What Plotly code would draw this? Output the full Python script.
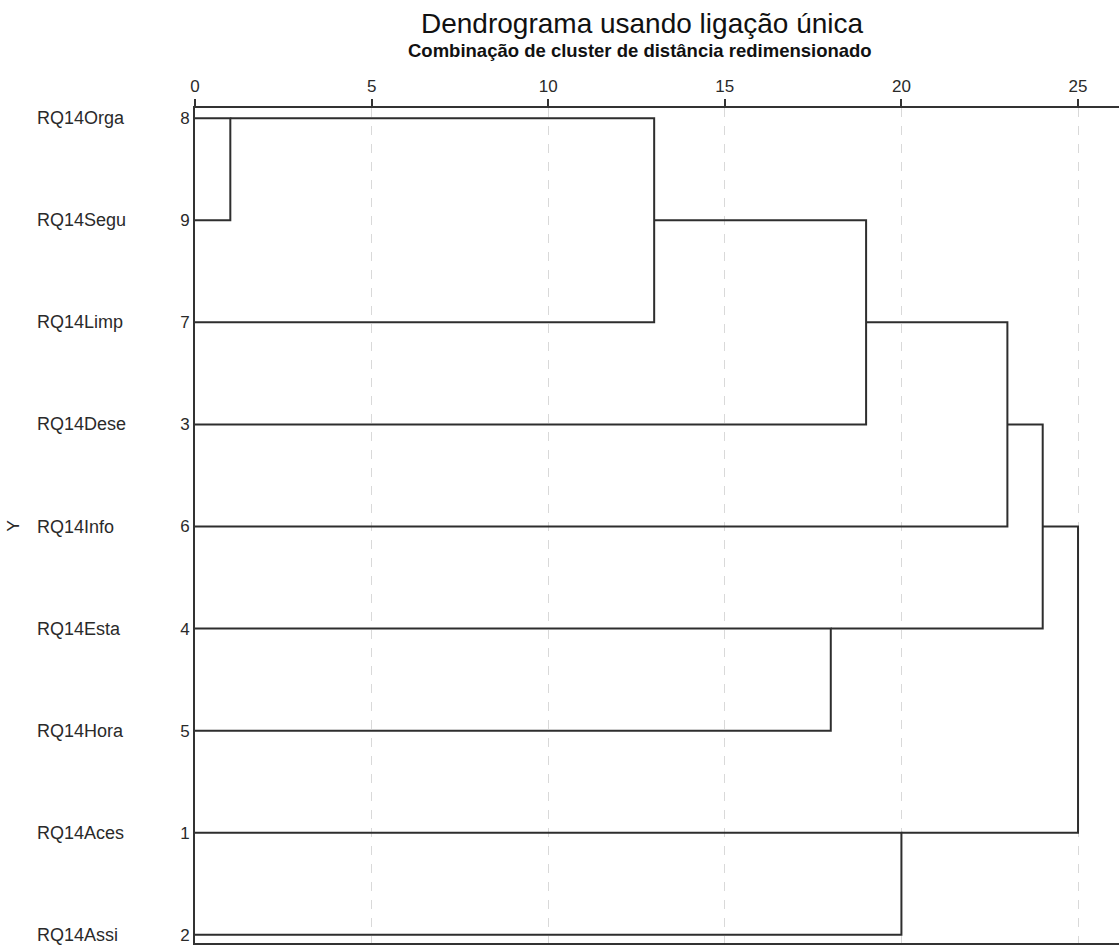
import plotly.graph_objects as go

# ---- data ----
leaf_labels = ["RQ14Orga", "RQ14Segu", "RQ14Limp", "RQ14Dese", "RQ14Info",
               "RQ14Esta", "RQ14Hora", "RQ14Aces", "RQ14Assi"]
case_numbers = ["8", "9", "7", "3", "6", "4", "5", "1", "2"]
# merges: children are leaf indices (0..8) or cluster ids (9 + merge index)
merge_a = [0, 9, 10, 11, 5, 12, 7, 14]
merge_b = [1, 2, 3, 4, 6, 13, 8, 15]
merge_dist = [1, 13, 19, 23, 18, 24, 20, 25]
x_ticks = [0, 5, 10, 15, 20, 25]

n = len(leaf_labels)
node_x = {i: 0 for i in range(n)}
node_y = {i: i for i in range(n)}

xs, ys = [], []
for k, (a, b, d) in enumerate(zip(merge_a, merge_b, merge_dist)):
    ya, yb = node_y[a], node_y[b]
    xs += [node_x[a], d, d, node_x[b], None]
    ys += [ya, ya, yb, yb, None]
    cid = n + k
    node_x[cid] = d
    if a < n and b < n:
        node_y[cid] = ya
    else:
        node_y[cid] = (ya + yb) / 2

fig = go.Figure()
fig.add_trace(go.Scatter(x=xs, y=ys, mode="lines",
                         line=dict(color="#2e2e2e", width=2),
                         hoverinfo="skip", showlegend=False))

font_main = "Liberation Sans, Arial, sans-serif"
PW = 924.0   # plot width px
PH = 835.0   # plot height px

annotations = []
for i, lab in enumerate(leaf_labels):
    annotations.append(dict(x=(35 - 195) / PW, xref="paper", y=i, yref="y", text=lab,
                            showarrow=False, xanchor="left", yanchor="middle",
                            font=dict(family=font_main, size=18, color="#2a2a2a")))
annotations.append(dict(x=(14 - 195) / PW, xref="paper", y=4, yref="y", text="Y",
                        textangle=-90, showarrow=False, xanchor="center",
                        yanchor="middle",
                        font=dict(family=font_main, size=17, color="#2a2a2a")))
annotations.append(dict(x=(642 - 195) / PW, xref="paper", y=1 + (108 - 23.5) / PH, yref="paper",
                        text="Dendrograma usando ligação única",
                        showarrow=False, xanchor="center", yanchor="middle",
                        font=dict(family=font_main, size=28, color="#111")))
annotations.append(dict(x=(640 - 195) / PW, xref="paper", y=1 + (108 - 51) / PH, yref="paper",
                        text="<b>Combinação de cluster de distância redimensionado</b>",
                        showarrow=False, xanchor="center", yanchor="middle",
                        font=dict(family=font_main, size=18.5, color="#111")))

fig.update_layout(
    width=1119, height=950,
    margin=dict(l=195, r=0, t=108, b=7),
    paper_bgcolor="white", plot_bgcolor="white",
    annotations=annotations,
    xaxis=dict(range=[0, 26.16], side="top", tickvals=x_ticks,
               ticks="outside", ticklen=7, tickwidth=2, tickcolor="#333",
               showline=True, linecolor="#333", linewidth=2, mirror=True,
               showgrid=True, gridcolor="#d9d9d9", griddash="dash", gridwidth=1,
               zeroline=False,
               tickfont=dict(family=font_main, size=17, color="#2a2a2a")),
    yaxis=dict(range=[8.08, -0.1], tickvals=list(range(n)), ticktext=case_numbers,
               ticks="", showline=True, linecolor="#333", linewidth=2,
               showgrid=False, zeroline=False,
               tickfont=dict(family=font_main, size=17, color="#2a2a2a")),
)

fig.write_html("out.html", config={"displayModeBar": False},
               post_script="document.body.style.margin='0';document.body.style.overflow='hidden';")
